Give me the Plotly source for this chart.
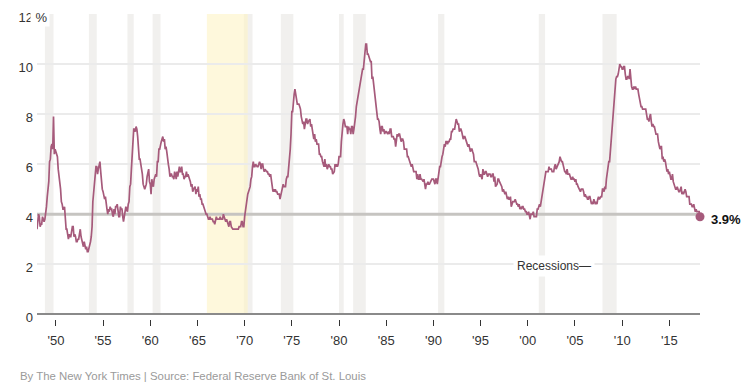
import pandas as pd
import plotly.graph_objects as go

# Monthly US unemployment rate (%), Jan 1948 – Apr 2018
start_month = "1948-01-01"
rate_by_year = {
    1948: [3.4, 3.8, 4.0, 3.9, 3.5, 3.6, 3.6, 3.9, 3.8, 3.7, 3.8, 4.0],
    1949: [4.3, 4.7, 5.0, 5.3, 6.1, 6.2, 6.7, 6.8, 6.6, 7.9, 6.4, 6.6],
    1950: [6.5, 6.4, 6.3, 5.8, 5.5, 5.4, 5.0, 4.5, 4.4, 4.2, 4.2, 4.3],
    1951: [3.7, 3.4, 3.4, 3.1, 3.0, 3.2, 3.1, 3.1, 3.3, 3.5, 3.5, 3.1],
    1952: [3.2, 3.1, 2.9, 2.9, 3.0, 3.0, 3.2, 3.4, 3.1, 3.0, 2.8, 2.7],
    1953: [2.9, 2.6, 2.6, 2.7, 2.5, 2.5, 2.6, 2.7, 2.9, 3.1, 3.5, 4.5],
    1954: [4.9, 5.2, 5.7, 5.9, 5.9, 5.6, 5.8, 6.0, 6.1, 5.7, 5.3, 5.0],
    1955: [4.9, 4.7, 4.6, 4.7, 4.3, 4.2, 4.0, 4.2, 4.1, 4.3, 4.2, 4.2],
    1956: [4.0, 3.9, 4.2, 4.0, 4.3, 4.3, 4.4, 4.1, 3.9, 3.9, 4.3, 4.2],
    1957: [4.2, 3.9, 3.7, 3.9, 4.1, 4.3, 4.2, 4.1, 4.4, 4.5, 5.1, 5.2],
    1958: [5.8, 6.4, 6.7, 7.4, 7.4, 7.3, 7.5, 7.4, 7.1, 6.7, 6.2, 6.2],
    1959: [6.0, 5.9, 5.6, 5.2, 5.1, 5.0, 5.1, 5.2, 5.5, 5.7, 5.8, 5.3],
    1960: [5.2, 4.8, 5.4, 5.2, 5.1, 5.4, 5.5, 5.6, 5.5, 6.1, 6.1, 6.6],
    1961: [6.6, 6.9, 6.9, 7.0, 7.1, 6.9, 7.0, 6.6, 6.7, 6.5, 6.1, 6.0],
    1962: [5.8, 5.5, 5.6, 5.6, 5.5, 5.5, 5.4, 5.7, 5.6, 5.4, 5.7, 5.5],
    1963: [5.7, 5.9, 5.7, 5.7, 5.9, 5.6, 5.6, 5.4, 5.5, 5.5, 5.7, 5.5],
    1964: [5.6, 5.4, 5.4, 5.3, 5.1, 5.2, 4.9, 5.0, 5.1, 5.1, 4.8, 5.0],
    1965: [4.9, 5.1, 4.7, 4.8, 4.6, 4.6, 4.4, 4.4, 4.3, 4.2, 4.1, 4.0],
    1966: [4.0, 3.8, 3.8, 3.8, 3.9, 3.8, 3.8, 3.8, 3.7, 3.7, 3.6, 3.8],
    1967: [3.9, 3.8, 3.8, 3.8, 3.8, 3.9, 3.8, 3.8, 3.8, 4.0, 3.9, 3.8],
    1968: [3.7, 3.8, 3.7, 3.5, 3.5, 3.7, 3.7, 3.5, 3.4, 3.4, 3.4, 3.4],
    1969: [3.4, 3.4, 3.4, 3.4, 3.4, 3.5, 3.5, 3.5, 3.7, 3.7, 3.5, 3.5],
    1970: [3.9, 4.2, 4.4, 4.6, 4.8, 4.9, 5.0, 5.1, 5.4, 5.5, 5.9, 6.1],
    1971: [5.9, 5.9, 6.0, 5.9, 5.9, 5.9, 6.0, 6.1, 6.0, 5.8, 6.0, 6.0],
    1972: [5.8, 5.7, 5.8, 5.7, 5.7, 5.7, 5.6, 5.6, 5.5, 5.6, 5.3, 5.2],
    1973: [4.9, 5.0, 4.9, 5.0, 4.9, 4.9, 4.8, 4.8, 4.8, 4.6, 4.8, 4.9],
    1974: [5.1, 5.2, 5.1, 5.1, 5.1, 5.4, 5.5, 5.5, 5.9, 6.0, 6.6, 7.2],
    1975: [8.1, 8.1, 8.6, 8.8, 9.0, 8.8, 8.6, 8.4, 8.4, 8.4, 8.3, 8.2],
    1976: [7.9, 7.7, 7.6, 7.7, 7.4, 7.6, 7.8, 7.8, 7.6, 7.7, 7.8, 7.8],
    1977: [7.5, 7.6, 7.4, 7.2, 7.0, 7.2, 6.9, 7.0, 6.8, 6.8, 6.8, 6.4],
    1978: [6.4, 6.3, 6.3, 6.1, 6.0, 5.9, 6.2, 5.9, 6.0, 5.8, 5.9, 6.0],
    1979: [5.9, 5.9, 5.8, 5.8, 5.6, 5.7, 5.7, 6.0, 5.9, 6.0, 5.9, 6.0],
    1980: [6.3, 6.3, 6.3, 6.9, 7.5, 7.6, 7.8, 7.7, 7.5, 7.5, 7.5, 7.2],
    1981: [7.5, 7.4, 7.4, 7.2, 7.5, 7.5, 7.2, 7.4, 7.6, 7.9, 8.3, 8.5],
    1982: [8.6, 8.9, 9.0, 9.3, 9.4, 9.6, 9.8, 9.8, 10.1, 10.4, 10.8, 10.8],
    1983: [10.4, 10.4, 10.3, 10.2, 10.1, 10.1, 9.4, 9.5, 9.2, 8.8, 8.5, 8.3],
    1984: [8.0, 7.8, 7.8, 7.7, 7.4, 7.2, 7.5, 7.5, 7.3, 7.4, 7.2, 7.3],
    1985: [7.3, 7.2, 7.2, 7.3, 7.2, 7.4, 7.4, 7.1, 7.1, 7.1, 7.0, 7.0],
    1986: [6.7, 7.2, 7.2, 7.1, 7.2, 7.2, 7.0, 6.9, 7.0, 7.0, 6.9, 6.6],
    1987: [6.6, 6.6, 6.6, 6.3, 6.3, 6.2, 6.1, 6.0, 5.9, 6.0, 5.8, 5.7],
    1988: [5.7, 5.7, 5.7, 5.4, 5.6, 5.4, 5.4, 5.6, 5.4, 5.4, 5.3, 5.3],
    1989: [5.4, 5.2, 5.0, 5.2, 5.2, 5.3, 5.2, 5.2, 5.3, 5.3, 5.4, 5.4],
    1990: [5.4, 5.3, 5.2, 5.4, 5.4, 5.2, 5.5, 5.7, 5.9, 5.9, 6.2, 6.3],
    1991: [6.4, 6.6, 6.8, 6.7, 6.9, 6.9, 6.8, 6.9, 6.9, 7.0, 7.0, 7.3],
    1992: [7.3, 7.4, 7.4, 7.4, 7.6, 7.8, 7.7, 7.6, 7.6, 7.3, 7.4, 7.4],
    1993: [7.3, 7.1, 7.0, 7.1, 7.1, 7.0, 6.9, 6.8, 6.7, 6.8, 6.6, 6.5],
    1994: [6.6, 6.6, 6.5, 6.4, 6.1, 6.1, 6.1, 6.0, 5.9, 5.8, 5.6, 5.5],
    1995: [5.6, 5.4, 5.4, 5.8, 5.6, 5.6, 5.7, 5.7, 5.6, 5.5, 5.6, 5.6],
    1996: [5.6, 5.5, 5.5, 5.6, 5.6, 5.3, 5.5, 5.1, 5.2, 5.2, 5.4, 5.4],
    1997: [5.3, 5.2, 5.2, 5.1, 4.9, 5.0, 4.9, 4.8, 4.9, 4.7, 4.6, 4.7],
    1998: [4.6, 4.6, 4.7, 4.3, 4.4, 4.5, 4.5, 4.5, 4.6, 4.5, 4.4, 4.4],
    1999: [4.3, 4.4, 4.2, 4.3, 4.2, 4.3, 4.3, 4.2, 4.2, 4.1, 4.1, 4.0],
    2000: [4.0, 4.1, 4.0, 3.8, 4.0, 4.0, 4.0, 4.1, 3.9, 3.9, 3.9, 3.9],
    2001: [4.2, 4.2, 4.3, 4.4, 4.3, 4.5, 4.6, 4.9, 5.0, 5.3, 5.5, 5.7],
    2002: [5.7, 5.7, 5.7, 5.9, 5.8, 5.8, 5.8, 5.7, 5.7, 5.7, 5.9, 6.0],
    2003: [5.8, 5.9, 5.9, 6.0, 6.1, 6.3, 6.2, 6.1, 6.1, 6.0, 5.8, 5.7],
    2004: [5.7, 5.6, 5.8, 5.6, 5.6, 5.6, 5.5, 5.4, 5.4, 5.5, 5.4, 5.4],
    2005: [5.3, 5.4, 5.2, 5.2, 5.1, 5.0, 5.0, 4.9, 5.0, 5.0, 5.0, 4.9],
    2006: [4.7, 4.8, 4.7, 4.7, 4.6, 4.6, 4.7, 4.7, 4.5, 4.4, 4.5, 4.4],
    2007: [4.6, 4.5, 4.4, 4.5, 4.4, 4.6, 4.7, 4.6, 4.7, 4.7, 4.7, 5.0],
    2008: [5.0, 4.9, 5.1, 5.0, 5.4, 5.6, 5.8, 6.1, 6.1, 6.5, 6.8, 7.3],
    2009: [7.8, 8.3, 8.7, 9.0, 9.4, 9.5, 9.5, 9.6, 9.8, 10.0, 9.9, 9.9],
    2010: [9.8, 9.8, 9.9, 9.9, 9.6, 9.4, 9.4, 9.5, 9.5, 9.4, 9.8, 9.3],
    2011: [9.1, 9.0, 9.0, 9.1, 9.0, 9.1, 9.0, 9.0, 9.0, 8.8, 8.6, 8.5],
    2012: [8.3, 8.3, 8.2, 8.2, 8.2, 8.2, 8.2, 8.0, 7.8, 7.8, 7.7, 7.9],
    2013: [8.0, 7.7, 7.5, 7.6, 7.5, 7.5, 7.3, 7.2, 7.2, 7.2, 6.9, 6.7],
    2014: [6.6, 6.7, 6.7, 6.2, 6.3, 6.1, 6.2, 6.1, 5.9, 5.7, 5.8, 5.6],
    2015: [5.7, 5.5, 5.4, 5.4, 5.6, 5.3, 5.2, 5.1, 5.0, 5.0, 5.1, 5.0],
    2016: [4.9, 4.9, 5.0, 5.1, 4.8, 4.9, 4.8, 4.9, 5.0, 4.9, 4.7, 4.7],
    2017: [4.7, 4.7, 4.4, 4.4, 4.4, 4.3, 4.3, 4.4, 4.2, 4.1, 4.2, 4.1],
    2018: [4.1, 4.1, 4.1, 3.9],
}

recession_starts = ["1948-11-01", "1953-07-01", "1957-08-01", "1960-04-01", "1969-12-01",
                    "1973-11-01", "1980-01-01", "1981-07-01", "1990-07-01", "2001-03-01",
                    "2007-12-01"]
recession_ends = ["1949-10-01", "1954-05-01", "1958-04-01", "1961-02-01", "1970-11-01",
                  "1975-03-01", "1980-07-01", "1982-11-01", "1991-03-01", "2001-11-01",
                  "2009-06-01"]
highlight_start = "1966-01-01"
highlight_end = "1970-05-01"
reference_level = 4.0

x_tick_vals = ["1950-01-01", "1955-01-01", "1960-01-01", "1965-01-01", "1970-01-01",
               "1975-01-01", "1980-01-01", "1985-01-01", "1990-01-01", "1995-01-01",
               "2000-01-01", "2005-01-01", "2010-01-01", "2015-01-01"]
x_tick_text = ["'50", "'55", "'60", "'65", "'70", "'75", "'80", "'85", "'90", "'95",
               "'00", "'05", "'10", "'15"]
y_tick_vals = [0, 2, 4, 6, 8, 10, 12]
y_tick_text = ["0", "2", "4", "6", "8", "10", "12"]

rates = [v for yr in sorted(rate_by_year) for v in rate_by_year[yr]]
dates = pd.date_range(start_month, periods=len(rates), freq="MS")

LINE = "#a65a7b"
REC = "#f1f0ee"
FONT = "Arial, Liberation Sans, sans-serif"

fig = go.Figure()

shapes = []
for s, e in zip(recession_starts, recession_ends):
    shapes.append(dict(type="rect", xref="x", yref="y", x0=s, x1=e, y0=0, y1=12,
                       fillcolor=REC, line_width=0, layer="below"))
shapes.append(dict(type="rect", xref="x", yref="y", x0=highlight_start, x1=highlight_end,
                   y0=0, y1=12, fillcolor="rgba(253,244,196,0.6)", line_width=0, layer="below"))
shapes.append(dict(type="line", xref="x", yref="y", x0=dates[0], x1=dates[-1],
                   y0=reference_level, y1=reference_level,
                   line=dict(color="#c6c4c1", width=3), layer="between"))

fig.add_trace(go.Scatter(x=dates, y=rates, mode="lines",
                         line=dict(color=LINE, width=1.7), hoverinfo="skip"))
fig.add_trace(go.Scatter(x=[dates[-1]], y=[rates[-1]], mode="markers", cliponaxis=False,
                         marker=dict(color=LINE, size=9), hoverinfo="skip"))

annotations = [
    dict(x=dates[-1], y=rates[-1], xref="x", yref="y", text="<b>%.1f%%</b>" % rates[-1],
         showarrow=False, xanchor="left", yanchor="middle", xshift=9, yshift=-3,
         font=dict(family=FONT, size=13, color="#111")),
    dict(x="2007-03-01", y=2, xref="x", yref="y", text="Recessions\u2014",
         showarrow=False, xanchor="right", yanchor="middle", yshift=-2,
         bgcolor="white", borderpad=3,
         font=dict(family=FONT, size=12, color="#333")),
    dict(x=0, y=12, xref="paper", yref="y", text=" %", showarrow=False,
         xanchor="left", yanchor="middle", xshift=-7, yshift=-3, bgcolor="white",
         font=dict(family=FONT, size=13, color="#333")),
    dict(x=0, y=0, xref="paper", yref="paper", text="By The New York Times | Source: Federal Reserve Bank of St. Louis",
         showarrow=False, xanchor="left", yanchor="middle", xshift=-19, yshift=-57,
         font=dict(family=FONT, size=11.4, color="#9a9a9a")),
]

# page body has an 8px default margin, so the figure is offset by 8px
fig.update_layout(
    width=742, height=382,
    margin=dict(l=29, r=50, t=6, b=71, autoexpand=False),
    paper_bgcolor="white", plot_bgcolor="white",
    showlegend=False,
    shapes=shapes,
    annotations=annotations,
    xaxis=dict(type="date", range=[dates[0], dates[-1]], tickvals=x_tick_vals, ticktext=x_tick_text,
               showgrid=False, showline=False, zeroline=False, automargin=False,
               anchor="free", position=0,
               ticks="outside", ticklen=6, tickwidth=1.2, tickcolor="#333",
               ticklabelstandoff=3,
               tickfont=dict(family=FONT, size=13, color="#333")),
    yaxis=dict(range=[0, 12], domain=[0.0154, 1], tickvals=y_tick_vals, ticktext=y_tick_text,
               showgrid=True, gridcolor="#ebebeb", gridwidth=2, automargin=False,
               zeroline=True, zerolinecolor="#8a8a8a", zerolinewidth=2,
               showline=False, ticks="", ticklabelstandoff=3, ticklabelshift=3,
               tickfont=dict(family=FONT, size=13, color="#333")),
)

fig.write_html("out.html")
